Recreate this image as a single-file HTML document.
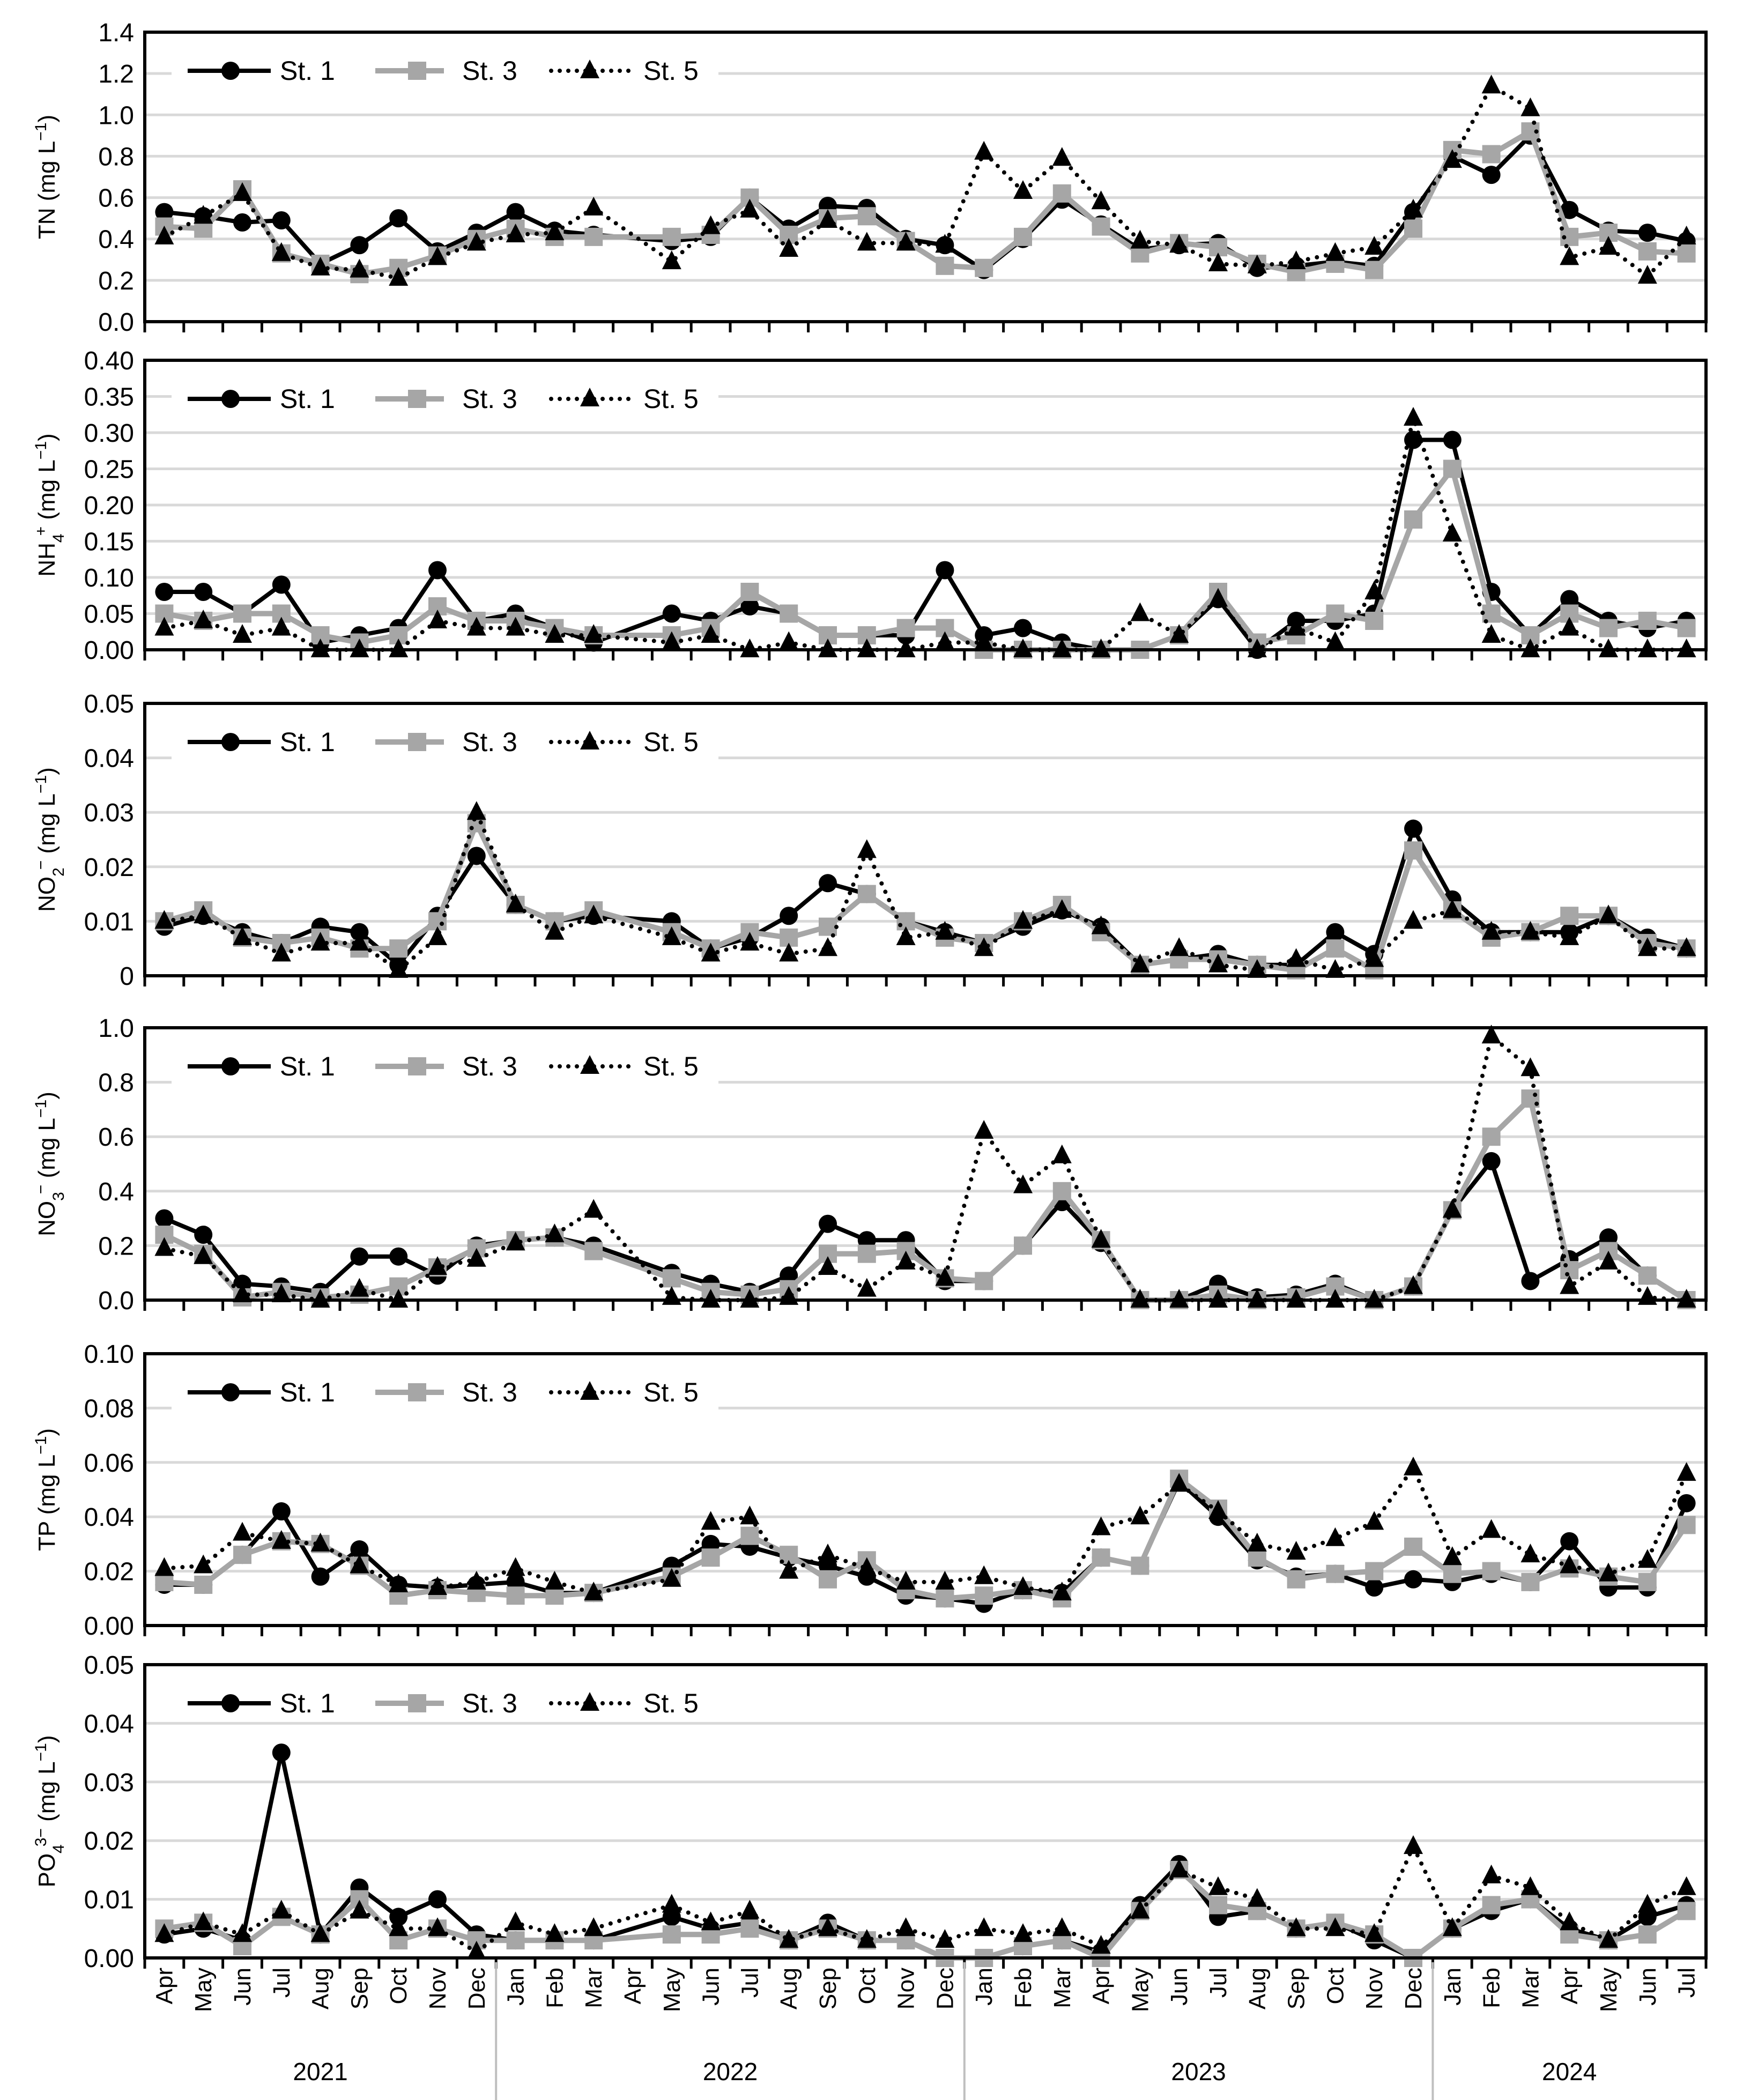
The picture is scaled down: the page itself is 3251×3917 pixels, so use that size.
<!DOCTYPE html>
<html><head><meta charset="utf-8"><style>
html,body{margin:0;padding:0;background:#fff}
svg{display:block;font-family:"Liberation Sans","DejaVu Sans",sans-serif}
</style></head><body>
<svg id="chart" width="3251" height="3917" viewBox="0 0 3251 3917" xmlns="http://www.w3.org/2000/svg"></svg>
<script>
const months = ["Apr","May","Jun","Jul","Aug","Sep","Oct","Nov","Dec","Jan","Feb","Mar","Apr","May","Jun","Jul","Aug","Sep","Oct","Nov","Dec","Jan","Feb","Mar","Apr","May","Jun","Jul","Aug","Sep","Oct","Nov","Dec","Jan","Feb","Mar","Apr","May","Jun","Jul"];
const years = ["2021","2022","2023","2024"];
const yearStart = [0,9,21,33];
const yearEnd = [9,21,33,40];
const N = null;
const tnSt1 = [0.53,0.51,0.48,0.49,0.28,0.37,0.50,0.34,0.43,0.53,0.44,0.42,N,0.39,0.41,0.60,0.45,0.56,0.55,0.40,0.37,0.25,0.40,0.59,0.47,0.35,0.37,0.38,0.26,0.27,0.29,0.27,0.53,0.80,0.71,0.90,0.54,0.44,0.43,0.39];
const tnSt3 = [0.46,0.45,0.64,0.33,0.28,0.23,0.26,0.32,0.40,0.45,0.41,0.41,N,0.41,0.42,0.60,0.42,0.50,0.51,0.39,0.27,0.26,0.41,0.62,0.46,0.33,0.38,0.36,0.28,0.24,0.28,0.25,0.45,0.83,0.81,0.92,0.41,0.43,0.34,0.33];
const tnSt5 = [0.41,0.51,0.62,0.33,0.26,0.25,0.21,0.31,0.38,0.42,0.43,0.55,N,0.29,0.46,0.54,0.35,0.49,0.38,0.38,0.37,0.82,0.63,0.79,0.58,0.39,0.37,0.28,0.27,0.29,0.33,0.36,0.54,0.78,1.14,1.03,0.31,0.36,0.22,0.41];
const nh4St1 = [0.08,0.08,0.05,0.09,0.01,0.02,0.03,0.11,0.04,0.05,0.03,0.01,N,0.05,0.04,0.06,0.05,0.02,0.02,0.02,0.11,0.02,0.03,0.01,0.00,0.00,0.02,0.07,0.00,0.04,0.04,0.05,0.29,0.29,0.08,0.02,0.07,0.04,0.03,0.04];
const nh4St3 = [0.05,0.04,0.05,0.05,0.02,0.01,0.02,0.06,0.04,0.04,0.03,0.02,N,0.02,0.03,0.08,0.05,0.02,0.02,0.03,0.03,0.00,0.00,0.00,0.00,0.00,0.02,0.08,0.01,0.02,0.05,0.04,0.18,0.25,0.05,0.02,0.05,0.03,0.04,0.03];
const nh4St5 = [0.03,0.04,0.02,0.03,0.00,0.00,0.00,0.04,0.03,0.03,0.02,0.02,N,0.01,0.02,0.00,0.01,0.00,0.00,0.00,0.01,0.01,0.00,0.00,0.00,0.05,0.02,0.07,0.00,0.03,0.01,0.08,0.32,0.16,0.02,0.00,0.03,0.00,0.00,0.00];
const no2St1 = [0.009,0.011,0.008,0.006,0.009,0.008,0.002,0.011,0.022,0.013,0.010,0.011,N,0.010,0.005,0.007,0.011,0.017,0.015,0.010,0.008,0.006,0.009,0.012,0.009,0.002,0.003,0.004,0.002,0.002,0.008,0.004,0.027,0.014,0.008,0.008,0.008,0.011,0.007,0.005];
const no2St3 = [0.010,0.012,0.007,0.006,0.007,0.005,0.005,0.010,0.028,0.013,0.010,0.012,N,0.008,0.005,0.008,0.007,0.009,0.015,0.010,0.007,0.006,0.010,0.013,0.008,0.002,0.003,0.003,0.002,0.001,0.005,0.001,0.023,0.012,0.007,0.008,0.011,0.011,0.006,0.005];
const no2St5 = [0.010,0.011,0.007,0.004,0.006,0.006,0.001,0.007,0.030,0.013,0.008,0.011,N,0.007,0.004,0.006,0.004,0.005,0.023,0.007,0.008,0.005,0.010,0.012,0.009,0.002,0.005,0.002,0.001,0.003,0.001,0.003,0.010,0.012,0.008,0.008,0.007,0.011,0.005,0.005];
const no3St1 = [0.30,0.24,0.06,0.05,0.03,0.16,0.16,0.09,0.20,0.22,0.23,0.20,N,0.10,0.06,0.03,0.09,0.28,0.22,0.22,0.07,0.07,0.20,0.36,0.21,0.00,0.00,0.06,0.01,0.02,0.06,0.00,0.05,0.33,0.51,0.07,0.15,0.23,0.09,0.00];
const no3St3 = [0.24,0.17,0.01,0.03,0.01,0.02,0.05,0.12,0.19,0.22,0.23,0.18,N,0.08,0.03,0.02,0.04,0.17,0.17,0.18,0.08,0.07,0.20,0.40,0.22,0.00,0.00,0.02,0.00,0.01,0.05,0.00,0.05,0.33,0.60,0.74,0.11,0.18,0.09,0.00];
const no3St5 = [0.19,0.16,0.02,0.02,0.00,0.04,0.00,0.12,0.15,0.21,0.24,0.33,N,0.01,0.00,0.00,0.01,0.12,0.04,0.14,0.08,0.62,0.42,0.53,0.22,0.00,0.00,0.00,0.00,0.00,0.00,0.00,0.05,0.33,0.97,0.85,0.05,0.14,0.01,0.00];
const tpSt1 = [0.015,0.015,0.026,0.042,0.018,0.028,0.015,0.014,0.015,0.016,0.012,0.012,N,0.022,0.030,0.029,0.025,0.022,0.018,0.011,0.010,0.008,0.013,0.012,0.025,0.022,0.053,0.040,0.024,0.018,0.019,0.014,0.017,0.016,0.019,0.016,0.031,0.014,0.014,0.045];
const tpSt3 = [0.016,0.015,0.026,0.031,0.030,0.022,0.011,0.013,0.012,0.011,0.011,0.012,N,0.018,0.025,0.033,0.026,0.017,0.024,0.013,0.010,0.011,0.013,0.010,0.025,0.022,0.054,0.043,0.025,0.017,0.019,0.020,0.029,0.019,0.020,0.016,0.021,0.018,0.016,0.037];
const tpSt5 = [0.021,0.022,0.034,0.031,0.030,0.022,0.015,0.014,0.016,0.021,0.016,0.012,N,0.017,0.038,0.040,0.020,0.026,0.021,0.016,0.016,0.018,0.014,0.012,0.036,0.040,0.052,0.042,0.030,0.027,0.032,0.038,0.058,0.025,0.035,0.026,0.022,0.019,0.024,0.056];
const po4St1 = [0.004,0.005,0.003,0.035,0.004,0.012,0.007,0.010,0.004,0.003,0.003,0.003,N,0.007,0.005,0.006,0.003,0.006,0.003,0.003,0.000,0.000,0.002,0.003,0.001,0.009,0.016,0.007,0.008,0.005,0.006,0.003,0.000,0.005,0.008,0.010,0.005,0.003,0.007,0.009];
const po4St3 = [0.005,0.006,0.002,0.007,0.004,0.010,0.003,0.005,0.003,0.003,0.003,0.003,N,0.004,0.004,0.005,0.003,0.005,0.003,0.003,0.000,0.000,0.002,0.003,0.000,0.008,0.015,0.009,0.008,0.005,0.006,0.004,0.000,0.005,0.009,0.010,0.004,0.003,0.004,0.008];
const po4St5 = [0.004,0.006,0.004,0.008,0.004,0.008,0.005,0.005,0.001,0.006,0.004,0.005,N,0.009,0.006,0.008,0.003,0.005,0.003,0.005,0.003,0.005,0.004,0.005,0.002,0.008,0.015,0.012,0.010,0.005,0.005,0.004,0.019,0.005,0.014,0.012,0.006,0.003,0.009,0.012];
const tnTicks = ["0.0","0.2","0.4","0.6","0.8","1.0","1.2","1.4"];
const nh4Ticks = ["0.00","0.05","0.10","0.15","0.20","0.25","0.30","0.35","0.40"];
const no2Ticks = ["0","0.01","0.02","0.03","0.04","0.05"];
const no3Ticks = ["0.0","0.2","0.4","0.6","0.8","1.0"];
const tpTicks = ["0.00","0.02","0.04","0.06","0.08","0.10"];
const po4Ticks = ["0.00","0.01","0.02","0.03","0.04","0.05"];

const NS="http://www.w3.org/2000/svg";
const svg=document.getElementById('chart');
const L=270,R=3182;
const step=(R-L)/months.length;
function xAt(i){return L+(i+0.5)*step;}
function mk(tag,attrs,parent){const e=document.createElementNS(NS,tag);for(const k in attrs)e.setAttribute(k,attrs[k]);(parent||svg).appendChild(e);return e;}

const panels=[
 {key:'tn',top:60,bot:600,max:1.4,ticks:tnTicks,s1:tnSt1,s3:tnSt3,s5:tnSt5,label:[['TN (mg L',0],['−1',1],[')',0]]},
 {key:'nh4',top:672,bot:1212,max:0.40,ticks:nh4Ticks,s1:nh4St1,s3:nh4St3,s5:nh4St5,label:[['NH',0],['4',-1],['+',2],[' (mg L',0],['−1',1],[')',0]]},
 {key:'no2',top:1312,bot:1820,max:0.05,ticks:no2Ticks,s1:no2St1,s3:no2St3,s5:no2St5,label:[['NO',0],['2',-1],['−',2],[' (mg L',0],['−1',1],[')',0]]},
 {key:'no3',top:1917,bot:2425,max:1.0,ticks:no3Ticks,s1:no3St1,s3:no3St3,s5:no3St5,label:[['NO',0],['3',-1],['−',2],[' (mg L',0],['−1',1],[')',0]]},
 {key:'tp',top:2525,bot:3032,max:0.10,ticks:tpTicks,s1:tpSt1,s3:tpSt3,s5:tpSt5,label:[['TP (mg L',0],['−1',1],[')',0]]},
 {key:'po4',top:3105,bot:3652,max:0.05,ticks:po4Ticks,s1:po4St1,s3:po4St3,s5:po4St5,label:[['PO',0],['4',-1],['3−',2],[' (mg L',0],['−1',1],[')',0]]}
];

function pathFor(arr,yOf){let d='';arr.forEach((v,i)=>{if(v===null)return;d+=(d?'L':'M')+xAt(i).toFixed(1)+','+yOf(v).toFixed(1);});return d;}
function circle(g,x,y){const c=mk('circle',{cx:x,cy:y,r:17,fill:'#000'},g);}
function square(g,x,y){const r=mk('rect',{x:x-17,y:y-17,width:34,height:34,fill:'#a6a6a6'},g);}
function tri(g,x,y){const p=mk('polygon',{points:`${x},${y-21} ${x-18},${y+14} ${x+18},${y+14}`,fill:'#000'},g);}

panels.forEach(p=>{
 const g=mk('g',{});
 
 
 const yOf=v=>p.bot-(v/p.max)*(p.bot-p.top);
 const nT=p.ticks.length-1;
 p.ticks.forEach((t,k)=>{
  const y=p.bot-k*(p.bot-p.top)/nT;
  if(k>0&&k<nT){const gl=mk('line',{x1:L,x2:R,y1:y,y2:y,stroke:'#d9d9d9','stroke-width':5},g);}
  const tl=mk('text',{x:L-20,y:y+17,'text-anchor':'end','font-size':48,fill:'#000'},g);
  tl.textContent=t;
  
  
 });
 const cy=(p.top+p.bot)/2;
 const yt=mk('text',{x:0,y:0,transform:`translate(102,${cy}) rotate(-90)`,'text-anchor':'middle','font-size':44,fill:'#000'},g);
 
 
 p.label.forEach(([s,m])=>{const ts=mk('tspan',{},yt);ts.textContent=s;if(m===1){ts.setAttribute('baseline-shift','super');ts.setAttribute('font-size',30);}if(m===-1){ts.setAttribute('baseline-shift','sub');ts.setAttribute('font-size',30);}if(m===2){ts.setAttribute('dx',-4);ts.setAttribute('baseline-shift','super');ts.setAttribute('font-size',30);}});
 const ly=p.top+72;
 const lg=mk('g',{},g);
 
 
 mk('rect',{x:320,y:ly-34,width:1020,height:68,fill:'#fff'},lg);
 mk('line',{x1:350,x2:505,y1:ly,y2:ly,stroke:'#000','stroke-width':8},lg);circle(lg,430,ly);
 let tx=mk('text',{x:522,y:ly+17,'font-size':50},lg);tx.textContent='St. 1';
 mk('line',{x1:700,x2:828,y1:ly,y2:ly,stroke:'#a6a6a6','stroke-width':10},lg);square(lg,778,ly);
 tx=mk('text',{x:862,y:ly+17,'font-size':50},lg);tx.textContent='St. 3';
 mk('line',{x1:1028,x2:1175,y1:ly,y2:ly,stroke:'#000','stroke-width':8,'stroke-dasharray':'0 16','stroke-linecap':'round'},lg);tri(lg,1100,ly);
 tx=mk('text',{x:1200,y:ly+17,'font-size':50},lg);tx.textContent='St. 5';
 const l1=mk('path',{d:pathFor(p.s1,yOf),fill:'none',stroke:'#000','stroke-width':8,'stroke-linejoin':'round'},g);
 
 p.s1.forEach((v,i)=>{if(v!==null)circle(g,xAt(i),yOf(v));});
 const l3=mk('path',{d:pathFor(p.s3,yOf),fill:'none',stroke:'#a6a6a6','stroke-width':10,'stroke-linejoin':'round'},g);
 
 p.s3.forEach((v,i)=>{if(v!==null)square(g,xAt(i),yOf(v));});
 const l5=mk('path',{d:pathFor(p.s5,yOf),fill:'none',stroke:'#000','stroke-width':8,'stroke-dasharray':'0 17','stroke-linecap':'round'},g);
 
 p.s5.forEach((v,i)=>{if(v!==null)tri(g,xAt(i),yOf(v));});
 const fr=mk('rect',{x:L,y:p.top,width:R-L,height:p.bot-p.top,fill:'none',stroke:'#000','stroke-width':6},g);
 
 for(let i=0;i<=months.length;i++){mk('line',{x1:L+i*step,x2:L+i*step,y1:p.bot,y2:p.bot+20,stroke:'#000','stroke-width':5},g);}
});
months.forEach((m,i)=>{
 const t=mk('text',{x:0,y:0,transform:`translate(${xAt(i)+15},3670) rotate(-90)`,'text-anchor':'end','font-size':44,fill:'#000'});
 t.textContent=m;
 
 
});
years.forEach((y,k)=>{
 const cx=L+(yearStart[k]+yearEnd[k])/2*step;
 const t=mk('text',{x:cx,y:3880,'text-anchor':'middle','font-size':46,fill:'#000'});
 t.textContent=y;
 
 
});
[9,21,33].forEach(i=>{const s=mk('line',{x1:L+i*step,x2:L+i*step,y1:3660,y2:3917,stroke:'#bfbfbf','stroke-width':4});});
</script>
</body></html>
